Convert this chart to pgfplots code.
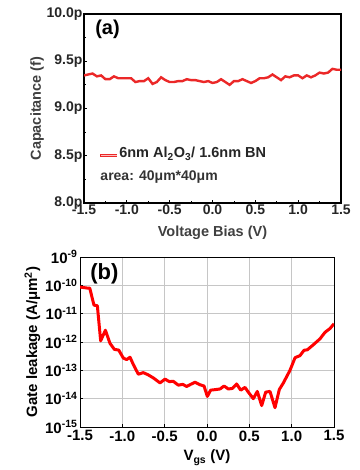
\documentclass[border=0pt]{standalone}
\usepackage{pgfplots}
\pgfplotsset{compat=1.18}
\usepackage{fontspec}
\setmainfont{Liberation Sans}
\definecolor{capred}{RGB}{235,40,40}
\begin{document}
\begin{tikzpicture}
\useasboundingbox (0,0) rectangle (359pt,470pt);
% ---------------- (a) ----------------
\begin{axis}[
  at={(84pt,267pt)}, anchor=south west,
  width=257pt, height=189pt, scale only axis,
  xmin=-1.5, xmax=1.5, ymin=8, ymax=10,
  xtick={-1.5,-1,-0.5,0,0.5,1,1.5},
  xticklabels={-1.5,-1.0,-0.5,0.0,0.5,1.0,1.5},
  ytick={8,8.5,9,9.5,10},
  yticklabels={8.0p,8.5p,9.0p,9.5p,10.0p},
  minor x tick num=1, minor y tick num=1,
  tick align=inside, xtick pos=left, ytick pos=left,
  major tick length=3pt, minor tick length=2pt,
  axis line style={line width=1.3pt},
  every tick/.style={black, line width=0.8pt},
  tick label style={font=\bfseries\fontsize{14}{16}\selectfont, text=black!85},
  xticklabel style={yshift=2pt},
  yticklabel style={xshift=2pt},
  xlabel={Voltage Bias (V)},
  ylabel={Capacitance (f)},
  label style={font=\bfseries\fontsize{14.5}{16}\selectfont, text=black!75},
  xlabel style={yshift=-5pt},
  ylabel style={yshift=-4pt},
]
\addplot[capred, line width=2.4pt] coordinates {
(-1.50,9.35) (-1.45,9.36) (-1.40,9.37) (-1.35,9.34) (-1.30,9.35) (-1.25,9.31)
(-1.20,9.31) (-1.15,9.34) (-1.10,9.32) (-1.05,9.32) (-1.00,9.32) (-0.95,9.32)
(-0.90,9.28) (-0.85,9.29) (-0.80,9.29) (-0.75,9.32) (-0.70,9.26) (-0.65,9.28)
(-0.60,9.33) (-0.55,9.30) (-0.50,9.28) (-0.45,9.28) (-0.40,9.29) (-0.35,9.29)
(-0.30,9.31) (-0.25,9.30) (-0.20,9.30) (-0.15,9.29) (-0.10,9.28) (-0.05,9.29)
(0.00,9.27) (0.05,9.28) (0.10,9.31) (0.15,9.28) (0.20,9.25) (0.25,9.29)
(0.30,9.29) (0.35,9.31) (0.40,9.29) (0.45,9.27) (0.50,9.29) (0.55,9.32)
(0.60,9.32) (0.65,9.33) (0.70,9.36) (0.75,9.33) (0.80,9.30) (0.85,9.34)
(0.90,9.33) (0.95,9.35) (1.00,9.35) (1.05,9.32) (1.10,9.35) (1.15,9.33)
(1.20,9.35) (1.25,9.38) (1.30,9.37) (1.35,9.38) (1.40,9.42) (1.45,9.41)
(1.50,9.41)};
\node[anchor=north west, font=\bfseries\fontsize{20}{22}\selectfont, inner sep=0pt]
  at (rel axis cs:0.043,0.968) {(a)};
\draw[capred, line width=3.2pt] (axis cs:-1.31,8.5) -- (axis cs:-1.11,8.5);
\draw[white!75!red, line width=0.6pt] (axis cs:-1.30,8.5) -- (axis cs:-1.12,8.5);
\node[anchor=west, font=\bfseries\fontsize{14.5}{16}\selectfont, text=black!85, inner sep=0pt]
  at (axis cs:-1.09,8.52) {6nm Al\textsubscript{2}O\textsubscript{3}/ 1.6nm BN};
\node[anchor=west, font=\bfseries\fontsize{14}{16}\selectfont, text=black!80, inner sep=0pt]
  at (axis cs:-1.31,8.28) {area: 40μm*40μm};
\end{axis}
% ---------------- (b) ----------------
\begin{axis}[
  at={(80pt,43pt)}, anchor=south west,
  width=254pt, height=170pt, scale only axis,
  ymode=log, log basis y=10,
  xmin=-1.5, xmax=1.5, ymin=1e-15, ymax=1e-9,
  xtick={-1.5,-1,-0.5,0,0.5,1,1.5},
  xticklabels={-1.5,-1.0,-0.5,0.0,0.5,1.0,1.5},
  ytick={1e-15,1e-14,1e-13,1e-12,1e-11,1e-10,1e-9},
  yticklabels={10\textsuperscript{-15},10\textsuperscript{-14},10\textsuperscript{-13},10\textsuperscript{-12},10\textsuperscript{-11},10\textsuperscript{-10},10\textsuperscript{-9}},
  yminorticks=false,
  grid=major, grid style={gray!45, line width=0.6pt},
  tick align=inside, xtick pos=left, ytick pos=left,
  major tick length=3pt,
  axis line style={line width=1pt},
  every tick/.style={black, line width=0.8pt},
  tick label style={font=\bfseries\fontsize{15}{17}\selectfont},
  yticklabel style={xshift=1pt},
  xlabel={V\textsubscript{gs} (V)},
  ylabel={Gate leakage (A/μm\textsuperscript{2})},
  label style={font=\bfseries\fontsize{15}{17}\selectfont},
  xlabel style={yshift=-2pt},
  ylabel style={yshift=-2pt},
]
\addplot[red, line width=3pt, line join=round] coordinates {
(-1.500,8.7e-11) (-1.413,8.0e-11) (-1.385,8.0e-11) (-1.335,2.0e-11) (-1.295,1.9e-11)
(-1.256,1.1e-12) (-1.200,2.6e-12) (-1.146,9.0e-13) (-1.094,5.5e-13) (-1.043,5.2e-13)
(-0.988,2.7e-13) (-0.949,2.4e-13) (-0.909,2.9e-13) (-0.870,1.6e-13) (-0.811,7.3e-14)
(-0.752,8.3e-14) (-0.693,6.9e-14) (-0.634,5.4e-14) (-0.555,3.6e-14) (-0.496,4.9e-14)
(-0.445,4.0e-14) (-0.398,4.1e-14) (-0.339,3.0e-14) (-0.287,3.2e-14) (-0.240,2.7e-14)
(-0.193,3.2e-14) (-0.142,3.8e-14) (-0.083,3.1e-14) (-0.035,2.8e-14) (0.004,1.2e-14)
(0.043,2.0e-14) (0.106,2.1e-14) (0.154,2.2e-14) (0.201,2.8e-14) (0.252,2.2e-14)
(0.299,2.3e-14) (0.350,3.3e-14) (0.398,2.0e-14) (0.449,2.5e-14) (0.488,1.7e-14)
(0.547,1.0e-14) (0.594,1.8e-14) (0.646,5.7e-15) (0.693,1.7e-14) (0.744,1.8e-14)
(0.803,4.8e-15) (0.854,2.1e-14) (0.902,3.6e-14) (0.980,1.0e-13) (1.040,2.8e-13)
(1.098,3.3e-13) (1.146,5.1e-13) (1.185,5.3e-13) (1.256,8.0e-13) (1.335,1.3e-12)
(1.394,2.2e-12) (1.453,3.0e-12) (1.500,4.4e-12)};
\node[anchor=north west, font=\bfseries\fontsize{22}{24}\selectfont, inner sep=0pt]
  at (rel axis cs:0.04,0.965) {(b)};
\end{axis}
\end{tikzpicture}
\end{document}
